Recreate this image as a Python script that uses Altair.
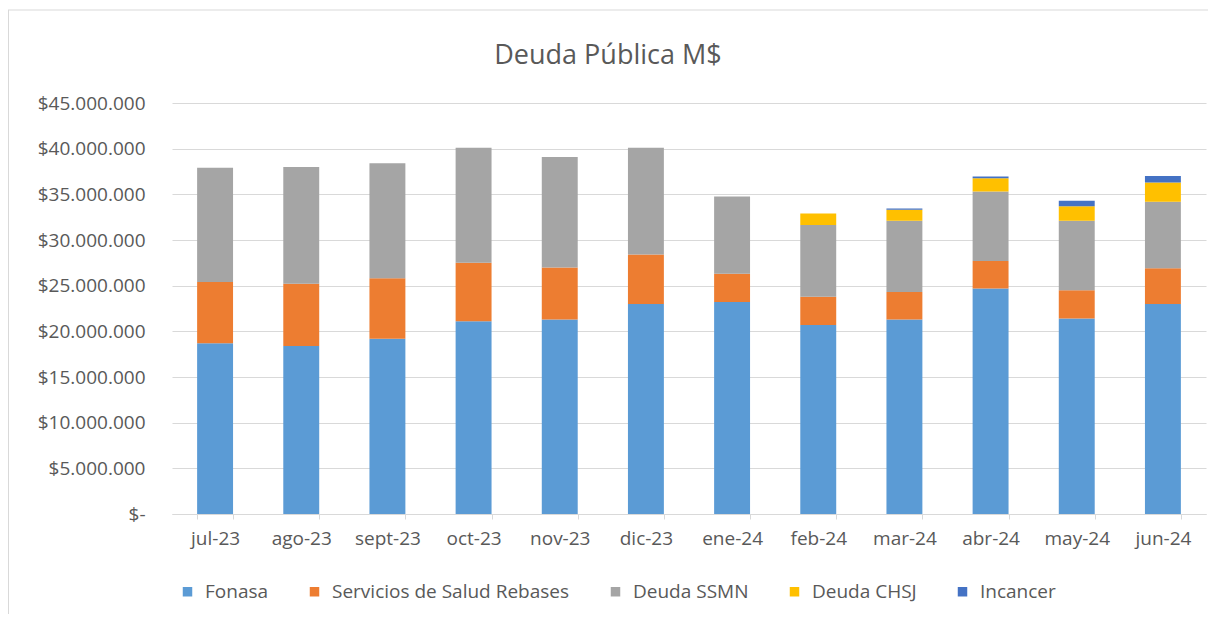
import altair as alt
import pandas as pd

months = ["jul-23", "ago-23", "sept-23", "oct-23", "nov-23", "dic-23",
          "ene-24", "feb-24", "mar-24", "abr-24", "may-24", "jun-24"]
series = ["Fonasa", "Servicios de Salud Rebases", "Deuda SSMN", "Deuda CHSJ", "Incancer"]
colors = ["#5B9BD5", "#ED7D31", "#A5A5A5", "#FFC000", "#4472C4"]

fonasa = [18700000, 18400000, 19200000, 21100000, 21300000, 23000000,
          23200000, 20700000, 21300000, 24700000, 21400000, 23000000]
servicios = [6700000, 6800000, 6600000, 6400000, 5700000, 5400000,
             3100000, 3100000, 3000000, 3000000, 3100000, 3900000]
ssmn = [12500000, 12800000, 12600000, 12600000, 12100000, 11700000,
        8450000, 7850000, 7800000, 7600000, 7600000, 7300000]
chsj = [0, 0, 0, 0, 0, 0, 0, 1250000, 1200000, 1450000, 1600000, 2100000]
incancer = [0, 0, 0, 0, 0, 0, 0, 0, 150000, 200000, 600000, 700000]

values = [fonasa, servicios, ssmn, chsj, incancer]
y_ticks = [0, 5000000, 10000000, 15000000, 20000000, 25000000, 30000000, 35000000, 40000000, 45000000]

rows = []
for i, s in enumerate(series):
    for j, m in enumerate(months):
        rows.append({"mes": m, "serie": s, "valor": values[i][j], "orden": i})
df = pd.DataFrame(rows)

FONT = "Open Sans"
TXT = "#595959"
GRID = "#d9d9d9"

bars = alt.Chart(df).mark_bar(strokeWidth=0).encode(
    x=alt.X("mes:N", sort=months,
            scale=alt.Scale(paddingInner=0.583, paddingOuter=0.2915),
            axis=alt.Axis(title=None, labelAngle=0, tickBand="extent", ticks=True,
                          tickSize=5, tickColor=GRID, domainColor=GRID, grid=False,
                          labelFontSize=19, labelColor=TXT, labelFont=FONT,
                          labelPadding=10)),
    y=alt.Y("valor:Q", stack="zero",
            scale=alt.Scale(domain=[0, 45000000], nice=False),
            axis=alt.Axis(title=None, values=y_ticks, domain=False, ticks=False,
                          grid=True, gridColor=GRID,
                          labelExpr="datum.value == 0 ? '$-' : '$' + format(datum.value / 1000000, 'd') + '.000.000'",
                          labelFontSize=19, labelColor=TXT, labelFont=FONT,
                          labelPadding=27)),
    color=alt.Color("serie:N", scale=alt.Scale(domain=series, range=colors),
                    legend=alt.Legend(title=None, orient="none", legendX=6, legendY=479,
                                      direction="horizontal", columns=5,
                                      symbolType="square", symbolSize=90,
                                      symbolStrokeWidth=0, labelFontSize=19,
                                      labelColor=TXT, labelFont=FONT, labelLimit=500,
                                      columnPadding=36, labelOffset=8, padding=0)),
    order=alt.Order("orden:Q", sort="ascending"),
)

border_df = pd.DataFrame({"a": [0]})
top_border = alt.Chart(border_df).mark_rule(color=GRID, strokeWidth=1).encode(
    x=alt.value(-164), x2=alt.value(1036), y=alt.value(-93))
left_border = alt.Chart(border_df).mark_rule(color=GRID, strokeWidth=1).encode(
    x=alt.value(-163.5), y=alt.value(-93), y2=alt.value(520))

chart = alt.layer(bars, top_border, left_border).properties(
    width=1034, height=411,
    padding={"left": 164, "top": 95, "right": 2, "bottom": 100},
    autosize=alt.AutoSizeParams(type="none"),
    background="white",
    title=alt.Title("Deuda Pública M$", fontSize=27, font=FONT, color=TXT,
                    fontWeight="normal", anchor="middle", frame="group",
                    dx=-81, offset=-60),
).configure_view(stroke=None)

chart.save("out.html", embed_options={"renderer": "svg", "actions": False})
